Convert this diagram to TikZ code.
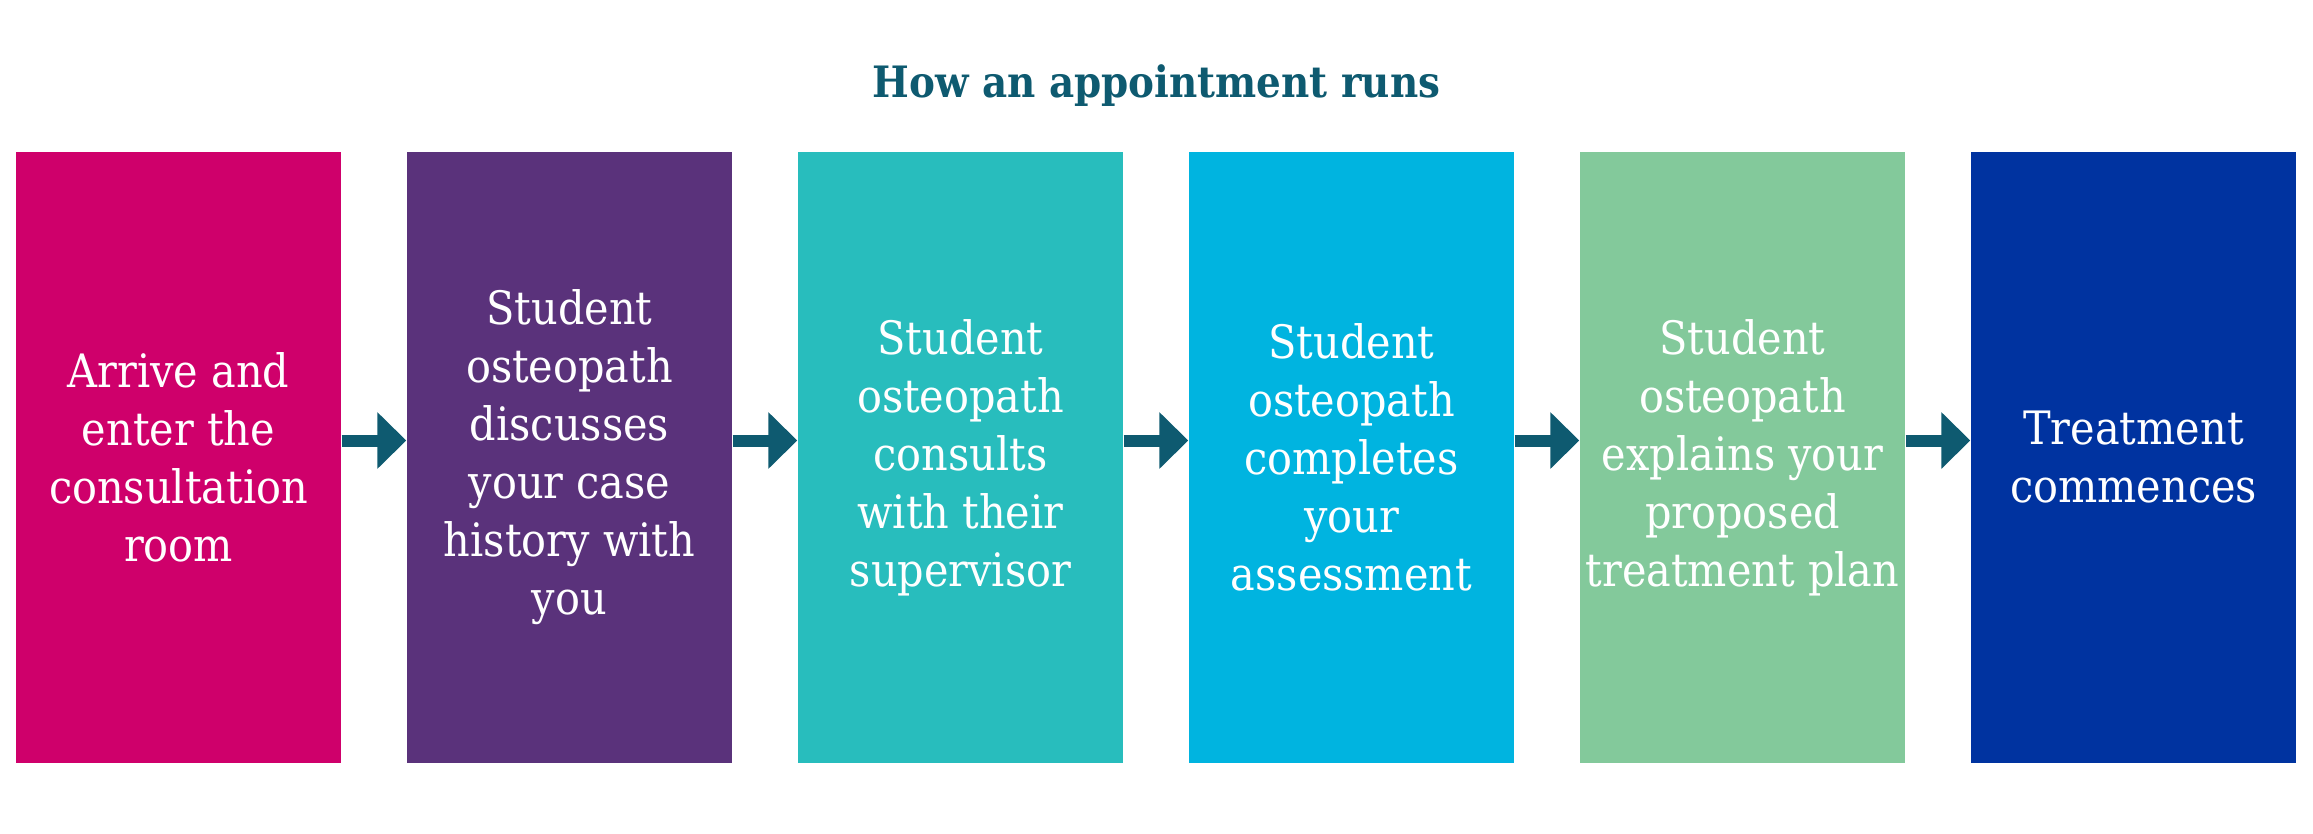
\documentclass[tikz,border=0pt]{standalone}
\usepackage{fontspec}
\setmainfont{DejaVu Serif Condensed}
\usetikzlibrary{arrows.meta,calc}

\definecolor{stageA}{HTML}{CF006B}
\definecolor{stageB}{HTML}{5A327B}
\definecolor{stageC}{HTML}{28BDBD}
\definecolor{stageD}{HTML}{00B4E0}
\definecolor{stageE}{HTML}{83C99B}
\definecolor{stageF}{HTML}{0033A0}
\definecolor{petrol}{HTML}{0E5A70}

\begin{document}
\begin{tikzpicture}[
    x=1cm,
    y=1cm,
    stage/.style={
        rectangle,
        draw=none,
        minimum width=3.25cm,
        minimum height=6.11cm,
        inner sep=0pt,
        align=center,
        text=white,
        font=\fontsize{13.1}{16.5}\selectfont
    },
    flow/.style={
        -{Triangle[length=0.29cm,width=0.55cm]},
        draw=petrol,
        color=petrol,
        line width=0.12cm
    },
    heading/.style={
        font=\fontsize{12.3}{15}\selectfont\bfseries,
        text=petrol,
        inner sep=0pt
    }
]

\useasboundingbox (0,0) rectangle (23.13,8.33);

% =====================================================
% Stage centres
% =====================================================

\coordinate (C1) at (1.785,3.755);
\coordinate (C2) at (5.695,3.755);
\coordinate (C3) at (9.605,3.755);
\coordinate (C4) at (13.515,3.755);
\coordinate (C5) at (17.425,3.755);
\coordinate (C6) at (21.335,3.755);

% =====================================================
% Title
% =====================================================

\node[heading, anchor=base] (T) at (11.565,7.36) {How an appointment runs};

% =====================================================
% Stages
% =====================================================

\node[stage, fill=stageA] (B1) at (C1) {Arrive and\\enter the\\consultation\\room};
\node[stage, fill=stageB] (B2) at (C2) {Student\\osteopath\\discusses\\your case\\history with\\you};
\node[stage, fill=stageC] (B3) at (C3) {Student\\osteopath\\consults\\with their\\supervisor};
\node[stage, fill=stageD] (B4) at (C4) {Student\\osteopath\\completes\\your\\assessment};
\node[stage, fill=stageE] (B5) at (C5) {Student\\osteopath\\explains your\\proposed\\treatment plan};
\node[stage, fill=stageF] (B6) at (C6) {Treatment\\commences};

% =====================================================
% Arrows between stages
% =====================================================

\draw[flow] ($(B1.east)+(0,0.17)$) -- ($(B2.west)+(0,0.17)$);
\draw[flow] ($(B2.east)+(0,0.17)$) -- ($(B3.west)+(0,0.17)$);
\draw[flow] ($(B3.east)+(0,0.17)$) -- ($(B4.west)+(0,0.17)$);
\draw[flow] ($(B4.east)+(0,0.17)$) -- ($(B5.west)+(0,0.17)$);
\draw[flow] ($(B5.east)+(0,0.17)$) -- ($(B6.west)+(0,0.17)$);

\end{tikzpicture}
\end{document}
